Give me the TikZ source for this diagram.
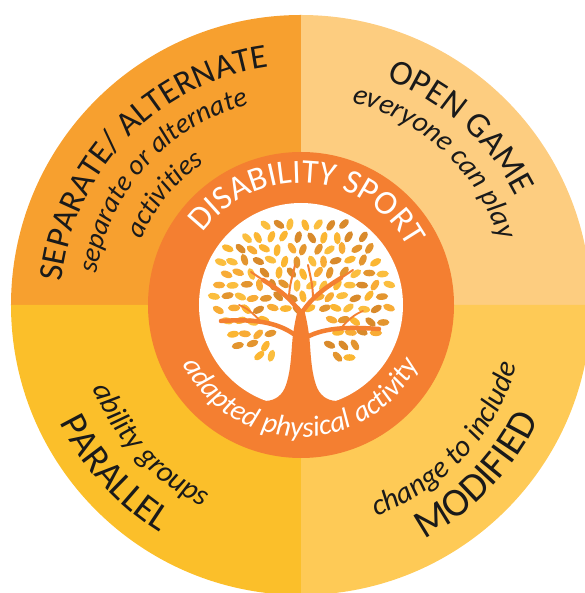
\documentclass[tikz,border=0pt]{standalone}
\usepackage{fontspec}
\setmainfont{Carlito}
\usetikzlibrary{decorations.text}

\definecolor{qtl}{HTML}{F7A02F}
\definecolor{qtr}{HTML}{FDCD80}
\definecolor{qbl}{HTML}{FBBF2A}
\definecolor{qbr}{HTML}{FECA56}
\definecolor{ring}{HTML}{F47F31}
\definecolor{ink}{HTML}{1A1A1A}
\definecolor{leaf1}{HTML}{FBB632}
\definecolor{leaf2}{HTML}{F8AC36}
\definecolor{leaf3}{HTML}{D98A2B}
\definecolor{leaf4}{HTML}{FBBE3E}
\definecolor{leaf5}{HTML}{E3952F}

\newcommand\setsz[1]{\fontsize{#1}{#1}\selectfont}

\begin{document}
\begin{tikzpicture}[x=1pt,y=1pt,
  quadrant/.style={fill=#1},
  branch/.style={draw=ring,line cap=round,line width=#1},
  curvetext/.style={decorate,decoration={text along path,text align=center,text color=#1}}]

\useasboundingbox (-301,-288) rectangle (283,305);

% four quadrants of the outer disc
\fill[quadrant=qtl] (0,0) -- (180:290) arc[start angle=180,end angle=90,radius=290] -- cycle;
\fill[quadrant=qtr] (0,0) -- (90:290) arc[start angle=90,end angle=0,radius=290] -- cycle;
\fill[quadrant=qbl] (0,0) -- (180:290) arc[start angle=180,end angle=270,radius=290] -- cycle;
\fill[quadrant=qbr] (0,0) -- (270:290) arc[start angle=270,end angle=360,radius=290] -- cycle;

% centre badge
\fill[ring] (0,0) circle[radius=153];
\fill[white] (0,0) circle[radius=102];

% crown of leaves
\pgfmathsetseed{7}
\foreach \j in {0,...,13}{
  \foreach \i in {0,...,15}{
    \pgfmathsetmacro{\lx}{(\i-7.5)*13 + (mod(\j,2)-0.5)*6.5 + rand*1.5}
    \pgfmathsetmacro{\ly}{(\j-6)*12 + 8 + rand*1.5}
    \pgfmathtruncatemacro{\keep}{((\lx/91)^2 + ((\ly-12)/79)^2 < 1) && (\ly > -64) && !((abs(\lx) < 25) && (\ly < -10)) ? 1 : 0}
    \ifnum\keep=1
      \pgfmathsetmacro{\la}{atan2(\ly+15,\lx) + rand*45}
      \pgfmathtruncatemacro{\lc}{random(1,5)}
      \fill[leaf\lc, rotate around={\la:(\lx,\ly)}] (\lx,\ly) ellipse[x radius=6.2,y radius=3.3];
    \fi
  }
}

% trunk
\fill[ring] (-62,-84) .. controls (-45,-100) and (-22,-101) .. (-15,-80)
  .. controls (-11,-68) and (-10,-55) .. (-9,-40)
  .. controls (-8,-25) and (-5,-12) .. (-3,-4) -- (3,-4)
  .. controls (5,-12) and (8,-25) .. (9,-40)
  .. controls (10,-55) and (11,-68) .. (15,-80)
  .. controls (22,-101) and (45,-100) .. (62,-84)
  -- (62,-125) -- (-62,-125) -- cycle;

% branches
\draw[branch=4.5] (-6,-30) .. controls (-25,-16) and (-50,-14) .. (-80,-16);
\draw[branch=4.5] (6,-32) .. controls (25,-22) and (50,-22) .. (78,-24);
\draw[branch=4.5] (-2,-6) .. controls (-10,6) and (-20,14) .. (-38,25);
\draw[branch=4.5] (2,-6) .. controls (10,6) and (22,16) .. (40,27);
\draw[branch=2] (-38,25) -- (-50,33);
\draw[branch=2] (40,27) -- (52,35);
\draw[branch=2] (-12,6) .. controls (-12,20) and (-8,30) .. (-6,40);
\draw[branch=2] (12,6) .. controls (12,20) and (9,30) .. (7,40);
\draw[branch=1.8] (-40,-17) .. controls (-48,-8) and (-54,-3) .. (-62,0);
\draw[branch=1.8] (40,-23) .. controls (48,-14) and (54,-9) .. (62,-6);

% ring captions
\path[curvetext=white,decoration={text={|\setsz{34}|DISABILITY SPORT}}]
  (166:122) arc[start angle=166,end angle=6,radius=122];
\path[curvetext=white,decoration={text={|\setsz{29}\itshape|adapted physical activity}}]
  (188:132) arc[start angle=188,end angle=352,radius=132];

% top-left quadrant
\path[curvetext=ink,decoration={text={|\setsz{34}|SEPARATE/ ALTERNATE}}]
  (206:240) arc[start angle=206,end angle=66,radius=240];
\path[curvetext=ink,decoration={text={|\setsz{28}\itshape|separate or alternate}}]
  (208:207) arc[start angle=208,end angle=68,radius=207];
\path[curvetext=ink,decoration={text={|\setsz{28}\itshape|activities}}]
  (211:172) arc[start angle=211,end angle=71,radius=172];

% top-right quadrant
\path[curvetext=ink,decoration={text={|\setsz{35}|OPEN GAME}}]
  (118:241) arc[start angle=118,end angle=-22,radius=241];
\path[curvetext=ink,decoration={text={|\setsz{29}\itshape|everyone can play}}]
  (117:209) arc[start angle=117,end angle=-23,radius=209];

% bottom-left quadrant
\path[curvetext=ink,decoration={text={|\setsz{30}\itshape|ability groups}}]
  (153:224) arc[start angle=153,end angle=293,radius=224];
\path[curvetext=ink,decoration={text={|\setsz{38}|PARALLEL}}]
  (152:268) arc[start angle=152,end angle=292,radius=268];

% bottom-right quadrant
\path[curvetext=ink,decoration={text={|\setsz{30}\itshape|change to include}}]
  (247:224) arc[start angle=247,end angle=387,radius=224];
\path[curvetext=ink,decoration={text={|\setsz{40}|MODIFIED}}]
  (246:264) arc[start angle=246,end angle=386,radius=264];

\end{tikzpicture}
\end{document}
